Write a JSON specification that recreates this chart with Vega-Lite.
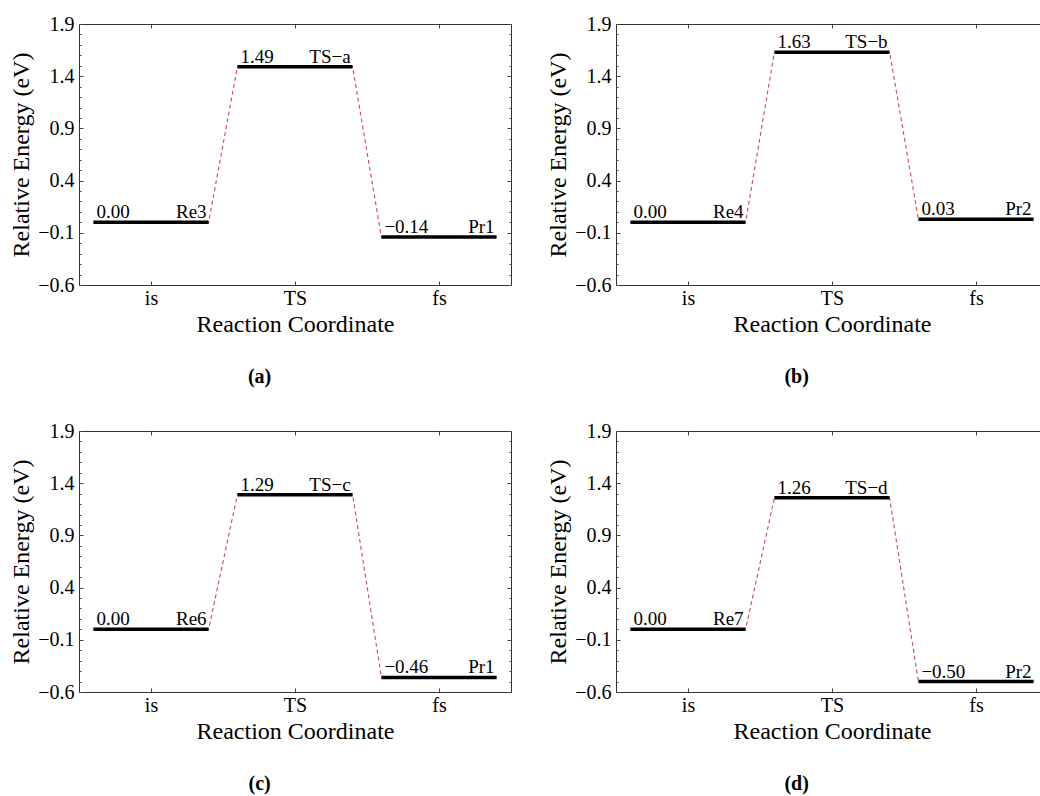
{
  "$schema": "https://vega.github.io/schema/vega-lite/v6.json",
  "padding": {"left": 9, "top": 13, "right": 0, "bottom": 0},
  "background": "white",
  "datasets": {
    "levels": [
      {"panel": "a", "state": "is", "name": "Re3", "energy": 0.00, "x_start": 0.6, "x_end": 1.4},
      {"panel": "a", "state": "TS", "name": "TS−a", "energy": 1.49, "x_start": 1.6, "x_end": 2.4},
      {"panel": "a", "state": "fs", "name": "Pr1", "energy": -0.14, "x_start": 2.6, "x_end": 3.4},
      {"panel": "b", "state": "is", "name": "Re4", "energy": 0.00, "x_start": 0.6, "x_end": 1.4},
      {"panel": "b", "state": "TS", "name": "TS−b", "energy": 1.63, "x_start": 1.6, "x_end": 2.4},
      {"panel": "b", "state": "fs", "name": "Pr2", "energy": 0.03, "x_start": 2.6, "x_end": 3.4},
      {"panel": "c", "state": "is", "name": "Re6", "energy": 0.00, "x_start": 0.6, "x_end": 1.4},
      {"panel": "c", "state": "TS", "name": "TS−c", "energy": 1.29, "x_start": 1.6, "x_end": 2.4},
      {"panel": "c", "state": "fs", "name": "Pr1", "energy": -0.46, "x_start": 2.6, "x_end": 3.4},
      {"panel": "d", "state": "is", "name": "Re7", "energy": 0.00, "x_start": 0.6, "x_end": 1.4},
      {"panel": "d", "state": "TS", "name": "TS−d", "energy": 1.26, "x_start": 1.6, "x_end": 2.4},
      {"panel": "d", "state": "fs", "name": "Pr2", "energy": -0.50, "x_start": 2.6, "x_end": 3.4}
    ]
  },
  "data": {"name": "levels"},
  "columns": 2,
  "spacing": {"row": 32, "column": 34},
  "concat": [
    {
      "width": 432, "height": 261,
      "title": {"text": "(a)"},
      "transform": [{"filter": "datum.panel === 'a'"}],
      "layer": [
        {
          "transform": [{"fold": ["x_start", "x_end"], "as": ["end", "coord"]}],
          "mark": {"type": "line", "color": "#d24b55", "strokeWidth": 1.1, "strokeDash": [4, 3]},
          "encoding": {
            "x": {"field": "coord", "type": "quantitative", "scale": {"domain": [0.5, 3.5], "nice": false, "zero": false},
                  "axis": {"orient": "bottom", "values": [1, 2, 3], "labelExpr": "datum.value == 1 ? 'is' : datum.value == 2 ? 'TS' : 'fs'", "tickSize": -4, "labelPadding": 7, "title": "Reaction Coordinate", "titlePadding": 4}},
            "y": {"field": "energy", "type": "quantitative", "scale": {"domain": [-0.6, 1.9], "nice": false, "zero": false},
                  "axis": {"orient": "left", "values": [-0.6, -0.1, 0.4, 0.9, 1.4, 1.9], "format": ".1f", "tickSize": -4, "labelPadding": 9, "title": "Relative Energy (eV)", "titlePadding": 4}},
            "order": {"field": "coord"}
          }
        },
        {
          "mark": {"type": "rule", "strokeWidth": 3.5, "color": "black"},
          "encoding": {
            "x": {"field": "x_start", "type": "quantitative", "axis": {"orient": "top", "values": [1, 2, 3], "labels": false, "tickSize": -4, "title": null}},
            "x2": {"field": "x_end"},
            "y": {"field": "energy", "type": "quantitative", "axis": {"orient": "right", "values": [-0.6, -0.1, 0.4, 0.9, 1.4, 1.9], "labels": false, "tickSize": -4, "title": null}}
          }
        },
        {
          "mark": {"type": "text", "align": "left", "baseline": "alphabetic", "dx": 3, "dy": -4, "font": "Liberation Serif", "fontSize": 19, "color": "black"},
          "encoding": {
            "x": {"field": "x_start", "type": "quantitative", "axis": null},
            "y": {"field": "energy", "type": "quantitative", "axis": {"orient": "left", "values": [-0.5, -0.4, -0.3, -0.2, 0, 0.1, 0.2, 0.3, 0.5, 0.6, 0.7, 0.8, 1.0, 1.1, 1.2, 1.3, 1.5, 1.6, 1.7, 1.8], "labels": false, "tickSize": -2, "title": null}},
            "text": {"field": "energy", "type": "quantitative", "format": ".2f"}
          }
        },
        {
          "mark": {"type": "text", "align": "right", "baseline": "alphabetic", "dx": -2, "dy": -4, "font": "Liberation Serif", "fontSize": 19, "color": "black"},
          "encoding": {
            "x": {"field": "x_end", "type": "quantitative", "axis": null},
            "y": {"field": "energy", "type": "quantitative", "axis": {"orient": "right", "values": [-0.5, -0.4, -0.3, -0.2, 0, 0.1, 0.2, 0.3, 0.5, 0.6, 0.7, 0.8, 1.0, 1.1, 1.2, 1.3, 1.5, 1.6, 1.7, 1.8], "labels": false, "tickSize": -2, "title": null}},
            "text": {"field": "name", "type": "nominal"}
          }
        }
      ],
      "resolve": {"axis": {"x": "independent", "y": "independent"}}
    },
    {
      "width": 432, "height": 261,
      "title": {"text": "(b)"},
      "transform": [{"filter": "datum.panel === 'b'"}],
      "layer": [
        {
          "transform": [{"fold": ["x_start", "x_end"], "as": ["end", "coord"]}],
          "mark": {"type": "line", "color": "#d24b55", "strokeWidth": 1.1, "strokeDash": [4, 3]},
          "encoding": {
            "x": {"field": "coord", "type": "quantitative", "scale": {"domain": [0.5, 3.5], "nice": false, "zero": false},
                  "axis": {"orient": "bottom", "values": [1, 2, 3], "labelExpr": "datum.value == 1 ? 'is' : datum.value == 2 ? 'TS' : 'fs'", "tickSize": -4, "labelPadding": 7, "title": "Reaction Coordinate", "titlePadding": 4}},
            "y": {"field": "energy", "type": "quantitative", "scale": {"domain": [-0.6, 1.9], "nice": false, "zero": false},
                  "axis": {"orient": "left", "values": [-0.6, -0.1, 0.4, 0.9, 1.4, 1.9], "format": ".1f", "tickSize": -4, "labelPadding": 9, "title": "Relative Energy (eV)", "titlePadding": 4}},
            "order": {"field": "coord"}
          }
        },
        {
          "mark": {"type": "rule", "strokeWidth": 3.5, "color": "black"},
          "encoding": {
            "x": {"field": "x_start", "type": "quantitative", "axis": {"orient": "top", "values": [1, 2, 3], "labels": false, "tickSize": -4, "title": null}},
            "x2": {"field": "x_end"},
            "y": {"field": "energy", "type": "quantitative", "axis": {"orient": "right", "values": [-0.6, -0.1, 0.4, 0.9, 1.4, 1.9], "labels": false, "tickSize": -4, "title": null}}
          }
        },
        {
          "mark": {"type": "text", "align": "left", "baseline": "alphabetic", "dx": 3, "dy": -4, "font": "Liberation Serif", "fontSize": 19, "color": "black"},
          "encoding": {
            "x": {"field": "x_start", "type": "quantitative", "axis": null},
            "y": {"field": "energy", "type": "quantitative", "axis": {"orient": "left", "values": [-0.5, -0.4, -0.3, -0.2, 0, 0.1, 0.2, 0.3, 0.5, 0.6, 0.7, 0.8, 1.0, 1.1, 1.2, 1.3, 1.5, 1.6, 1.7, 1.8], "labels": false, "tickSize": -2, "title": null}},
            "text": {"field": "energy", "type": "quantitative", "format": ".2f"}
          }
        },
        {
          "mark": {"type": "text", "align": "right", "baseline": "alphabetic", "dx": -2, "dy": -4, "font": "Liberation Serif", "fontSize": 19, "color": "black"},
          "encoding": {
            "x": {"field": "x_end", "type": "quantitative", "axis": null},
            "y": {"field": "energy", "type": "quantitative", "axis": {"orient": "right", "values": [-0.5, -0.4, -0.3, -0.2, 0, 0.1, 0.2, 0.3, 0.5, 0.6, 0.7, 0.8, 1.0, 1.1, 1.2, 1.3, 1.5, 1.6, 1.7, 1.8], "labels": false, "tickSize": -2, "title": null}},
            "text": {"field": "name", "type": "nominal"}
          }
        }
      ],
      "resolve": {"axis": {"x": "independent", "y": "independent"}}
    },
    {
      "width": 432, "height": 261,
      "title": {"text": "(c)"},
      "transform": [{"filter": "datum.panel === 'c'"}],
      "layer": [
        {
          "transform": [{"fold": ["x_start", "x_end"], "as": ["end", "coord"]}],
          "mark": {"type": "line", "color": "#d24b55", "strokeWidth": 1.1, "strokeDash": [4, 3]},
          "encoding": {
            "x": {"field": "coord", "type": "quantitative", "scale": {"domain": [0.5, 3.5], "nice": false, "zero": false},
                  "axis": {"orient": "bottom", "values": [1, 2, 3], "labelExpr": "datum.value == 1 ? 'is' : datum.value == 2 ? 'TS' : 'fs'", "tickSize": -4, "labelPadding": 7, "title": "Reaction Coordinate", "titlePadding": 4}},
            "y": {"field": "energy", "type": "quantitative", "scale": {"domain": [-0.6, 1.9], "nice": false, "zero": false},
                  "axis": {"orient": "left", "values": [-0.6, -0.1, 0.4, 0.9, 1.4, 1.9], "format": ".1f", "tickSize": -4, "labelPadding": 9, "title": "Relative Energy (eV)", "titlePadding": 4}},
            "order": {"field": "coord"}
          }
        },
        {
          "mark": {"type": "rule", "strokeWidth": 3.5, "color": "black"},
          "encoding": {
            "x": {"field": "x_start", "type": "quantitative", "axis": {"orient": "top", "values": [1, 2, 3], "labels": false, "tickSize": -4, "title": null}},
            "x2": {"field": "x_end"},
            "y": {"field": "energy", "type": "quantitative", "axis": {"orient": "right", "values": [-0.6, -0.1, 0.4, 0.9, 1.4, 1.9], "labels": false, "tickSize": -4, "title": null}}
          }
        },
        {
          "mark": {"type": "text", "align": "left", "baseline": "alphabetic", "dx": 3, "dy": -4, "font": "Liberation Serif", "fontSize": 19, "color": "black"},
          "encoding": {
            "x": {"field": "x_start", "type": "quantitative", "axis": null},
            "y": {"field": "energy", "type": "quantitative", "axis": {"orient": "left", "values": [-0.5, -0.4, -0.3, -0.2, 0, 0.1, 0.2, 0.3, 0.5, 0.6, 0.7, 0.8, 1.0, 1.1, 1.2, 1.3, 1.5, 1.6, 1.7, 1.8], "labels": false, "tickSize": -2, "title": null}},
            "text": {"field": "energy", "type": "quantitative", "format": ".2f"}
          }
        },
        {
          "mark": {"type": "text", "align": "right", "baseline": "alphabetic", "dx": -2, "dy": -4, "font": "Liberation Serif", "fontSize": 19, "color": "black"},
          "encoding": {
            "x": {"field": "x_end", "type": "quantitative", "axis": null},
            "y": {"field": "energy", "type": "quantitative", "axis": {"orient": "right", "values": [-0.5, -0.4, -0.3, -0.2, 0, 0.1, 0.2, 0.3, 0.5, 0.6, 0.7, 0.8, 1.0, 1.1, 1.2, 1.3, 1.5, 1.6, 1.7, 1.8], "labels": false, "tickSize": -2, "title": null}},
            "text": {"field": "name", "type": "nominal"}
          }
        }
      ],
      "resolve": {"axis": {"x": "independent", "y": "independent"}}
    },
    {
      "width": 432, "height": 261,
      "title": {"text": "(d)"},
      "transform": [{"filter": "datum.panel === 'd'"}],
      "layer": [
        {
          "transform": [{"fold": ["x_start", "x_end"], "as": ["end", "coord"]}],
          "mark": {"type": "line", "color": "#d24b55", "strokeWidth": 1.1, "strokeDash": [4, 3]},
          "encoding": {
            "x": {"field": "coord", "type": "quantitative", "scale": {"domain": [0.5, 3.5], "nice": false, "zero": false},
                  "axis": {"orient": "bottom", "values": [1, 2, 3], "labelExpr": "datum.value == 1 ? 'is' : datum.value == 2 ? 'TS' : 'fs'", "tickSize": -4, "labelPadding": 7, "title": "Reaction Coordinate", "titlePadding": 4}},
            "y": {"field": "energy", "type": "quantitative", "scale": {"domain": [-0.6, 1.9], "nice": false, "zero": false},
                  "axis": {"orient": "left", "values": [-0.6, -0.1, 0.4, 0.9, 1.4, 1.9], "format": ".1f", "tickSize": -4, "labelPadding": 9, "title": "Relative Energy (eV)", "titlePadding": 4}},
            "order": {"field": "coord"}
          }
        },
        {
          "mark": {"type": "rule", "strokeWidth": 3.5, "color": "black"},
          "encoding": {
            "x": {"field": "x_start", "type": "quantitative", "axis": {"orient": "top", "values": [1, 2, 3], "labels": false, "tickSize": -4, "title": null}},
            "x2": {"field": "x_end"},
            "y": {"field": "energy", "type": "quantitative", "axis": {"orient": "right", "values": [-0.6, -0.1, 0.4, 0.9, 1.4, 1.9], "labels": false, "tickSize": -4, "title": null}}
          }
        },
        {
          "mark": {"type": "text", "align": "left", "baseline": "alphabetic", "dx": 3, "dy": -4, "font": "Liberation Serif", "fontSize": 19, "color": "black"},
          "encoding": {
            "x": {"field": "x_start", "type": "quantitative", "axis": null},
            "y": {"field": "energy", "type": "quantitative", "axis": {"orient": "left", "values": [-0.5, -0.4, -0.3, -0.2, 0, 0.1, 0.2, 0.3, 0.5, 0.6, 0.7, 0.8, 1.0, 1.1, 1.2, 1.3, 1.5, 1.6, 1.7, 1.8], "labels": false, "tickSize": -2, "title": null}},
            "text": {"field": "energy", "type": "quantitative", "format": ".2f"}
          }
        },
        {
          "mark": {"type": "text", "align": "right", "baseline": "alphabetic", "dx": -2, "dy": -4, "font": "Liberation Serif", "fontSize": 19, "color": "black"},
          "encoding": {
            "x": {"field": "x_end", "type": "quantitative", "axis": null},
            "y": {"field": "energy", "type": "quantitative", "axis": {"orient": "right", "values": [-0.5, -0.4, -0.3, -0.2, 0, 0.1, 0.2, 0.3, 0.5, 0.6, 0.7, 0.8, 1.0, 1.1, 1.2, 1.3, 1.5, 1.6, 1.7, 1.8], "labels": false, "tickSize": -2, "title": null}},
            "text": {"field": "name", "type": "nominal"}
          }
        }
      ],
      "resolve": {"axis": {"x": "independent", "y": "independent"}}
    }
  ],
  "config": {
    "view": {"stroke": "#333", "strokeWidth": 1},
    "axis": {
      "domain": false, "grid": false, "tickColor": "#444", "tickWidth": 1,
      "labelFont": "Liberation Serif", "labelFontSize": 20, "labelColor": "black",
      "titleFont": "Liberation Serif", "titleFontSize": 24, "titleFontWeight": "normal", "titleColor": "black"
    },
    "title": {
      "orient": "bottom", "anchor": "middle", "frame": "bounds",
      "font": "Liberation Serif", "fontSize": 20, "fontWeight": "bold", "color": "black",
      "offset": 31, "dx": -1
    }
  }
}
